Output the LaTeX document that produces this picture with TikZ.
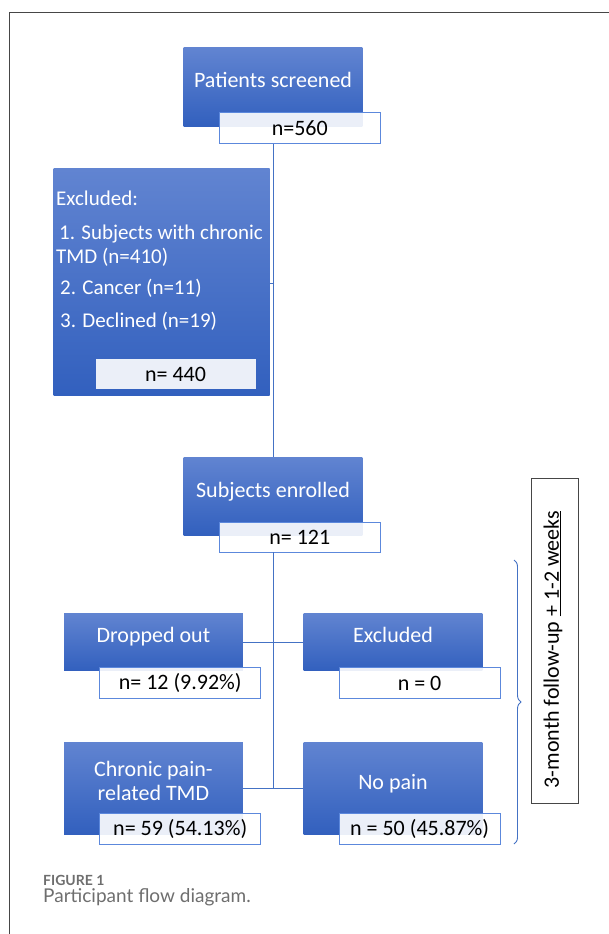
\documentclass[tikz,border=0pt]{standalone}
\usepackage{fontspec}
\setmainfont{Carlito}
\newfontfamily\capfont{Lato}
\usetikzlibrary{decorations.pathreplacing}

\definecolor{boxtop}{RGB}{97,132,209}
\definecolor{boxbottom}{RGB}{50,96,190}
\definecolor{boxline}{RGB}{92,136,220}
\definecolor{linkline}{RGB}{68,114,196}
\definecolor{framegray}{RGB}{70,70,70}
\definecolor{capgray}{RGB}{110,110,110}
\newcommand\diagfont{\fontsize{22}{23.5}\selectfont}

\begin{document}
\begin{tikzpicture}[x=1pt,y=-1pt,
  bluebox/.style={rectangle,top color=boxtop,bottom color=boxbottom,draw=none,inner sep=0pt},
  numbox/.style={rectangle,draw=boxline,line width=0.9pt,fill=white,fill opacity=0.9,text opacity=1,
    minimum width=161pt,minimum height=31pt,inner sep=0pt,font=\diagfont},
  boxtext/.style={text=white,font=\diagfont,inner sep=0pt,anchor=base,align=center},
  link/.style={draw=linkline,line width=0.9pt}]
\useasboundingbox (0,0) rectangle (609,934);
\draw[framegray,line width=1pt] (9,934) -- (9,13) -- (609,13);

% screening
\node[bluebox,minimum width=178.6pt,minimum height=78pt] (screened) at (273,87) {};
\node[boxtext] (screenedtext) at (273,87) {Patients screened};
\node[numbox] (screenedn) at (299.8,128.2) {n=560};

\node[bluebox,minimum width=216pt,minimum height=226.6pt] (excl) at (161.5,282) {};
\node[text=white,font=\fontsize{21}{23.5}\selectfont,inner sep=0pt,anchor=base west,align=left] (excltext) at (56,327)
  {Excluded:\\[10.5pt]
   \hspace*{3pt}1. Subjects with chronic\\
   TMD (n=410)\\[7.5pt]
   \hspace*{4pt}2. Cancer (n=11)\\[9.5pt]
   \hspace*{4pt}3. Declined (n=19)};
\node[numbox,draw=none,minimum width=160pt,minimum height=29.7pt] (excln) at (175.5,374.2) {n= 440};

% enrolment
\node[bluebox,minimum width=178.6pt,minimum height=78pt] (enrolled) at (273,496) {};
\node[boxtext] (enrolledtext) at (273,497) {Subjects enrolled};
\node[numbox,minimum height=30pt] (enrolledn) at (299.8,537) {n= 121};

% follow-up
\node[bluebox,minimum width=178.7pt,minimum height=57.4pt] (dropped) at (153.4,642) {};
\node[boxtext] (droppedtext) at (153.4,642) {Dropped out};
\node[numbox] (droppedn) at (180.2,683.2) {n= 12 (9.92\%)};

\node[bluebox,minimum width=178.7pt,minimum height=57.4pt] (exclb) at (393,642) {};
\node[boxtext] (exclbtext) at (393,642) {Excluded};
\node[numbox] (exclbn) at (419.6,683.2) {n = 0};

\node[bluebox,minimum width=178.7pt,minimum height=92pt] (chronic) at (153.4,788) {};
\node[boxtext] (chronictext) at (153.4,800) {Chronic pain-\\related TMD};
\node[numbox] (chronicn) at (180.2,828.5) {n= 59 (54.13\%)};

\node[bluebox,minimum width=178.7pt,minimum height=92pt] (nopain) at (393,788) {};
\node[boxtext] (nopaintext) at (393,789) {No pain};
\node[numbox] (nopainn) at (419.6,828.5) {n = 50 (45.87\%)};

% follow-up period
\node[rectangle,draw=framegray,line width=0.9pt,minimum width=47pt,minimum height=325pt,inner sep=0pt] (period) at (554.5,640.5) {};
\node[font=\diagfont,rotate=90,inner sep=0pt] (periodtext) at (553,649.5) {3-month follow-up \underline{+ 1-2 weeks}};
\draw[link,decorate,decoration={brace,amplitude=7pt}] (514,560) -- (514,844);

% connectors
\coordinate (exclhook) at (273,283);
\path[link] (screened.center |- screenedn.south) -- (enrolled.north);
\path[link] (excl.east |- exclhook) -- (exclhook);
\path[link] (enrolled.center |- enrolledn.south) -- (enrolled.center |- chronic.east);
\path[link] (dropped.east) -- (exclb.west);
\path[link] (chronic.east) -- (nopain.west);

% caption
\node[font=\capfont\bfseries\fontsize{14}{16}\selectfont,text=capgray,inner sep=0pt,anchor=base west] (figlabel) at (43,885) {FIGURE 1};
\node[font=\capfont\fontsize{19}{22}\selectfont,text=capgray,inner sep=0pt,anchor=base west] (figcaption) at (43,902) {Participant flow diagram.};
\end{tikzpicture}
\end{document}
